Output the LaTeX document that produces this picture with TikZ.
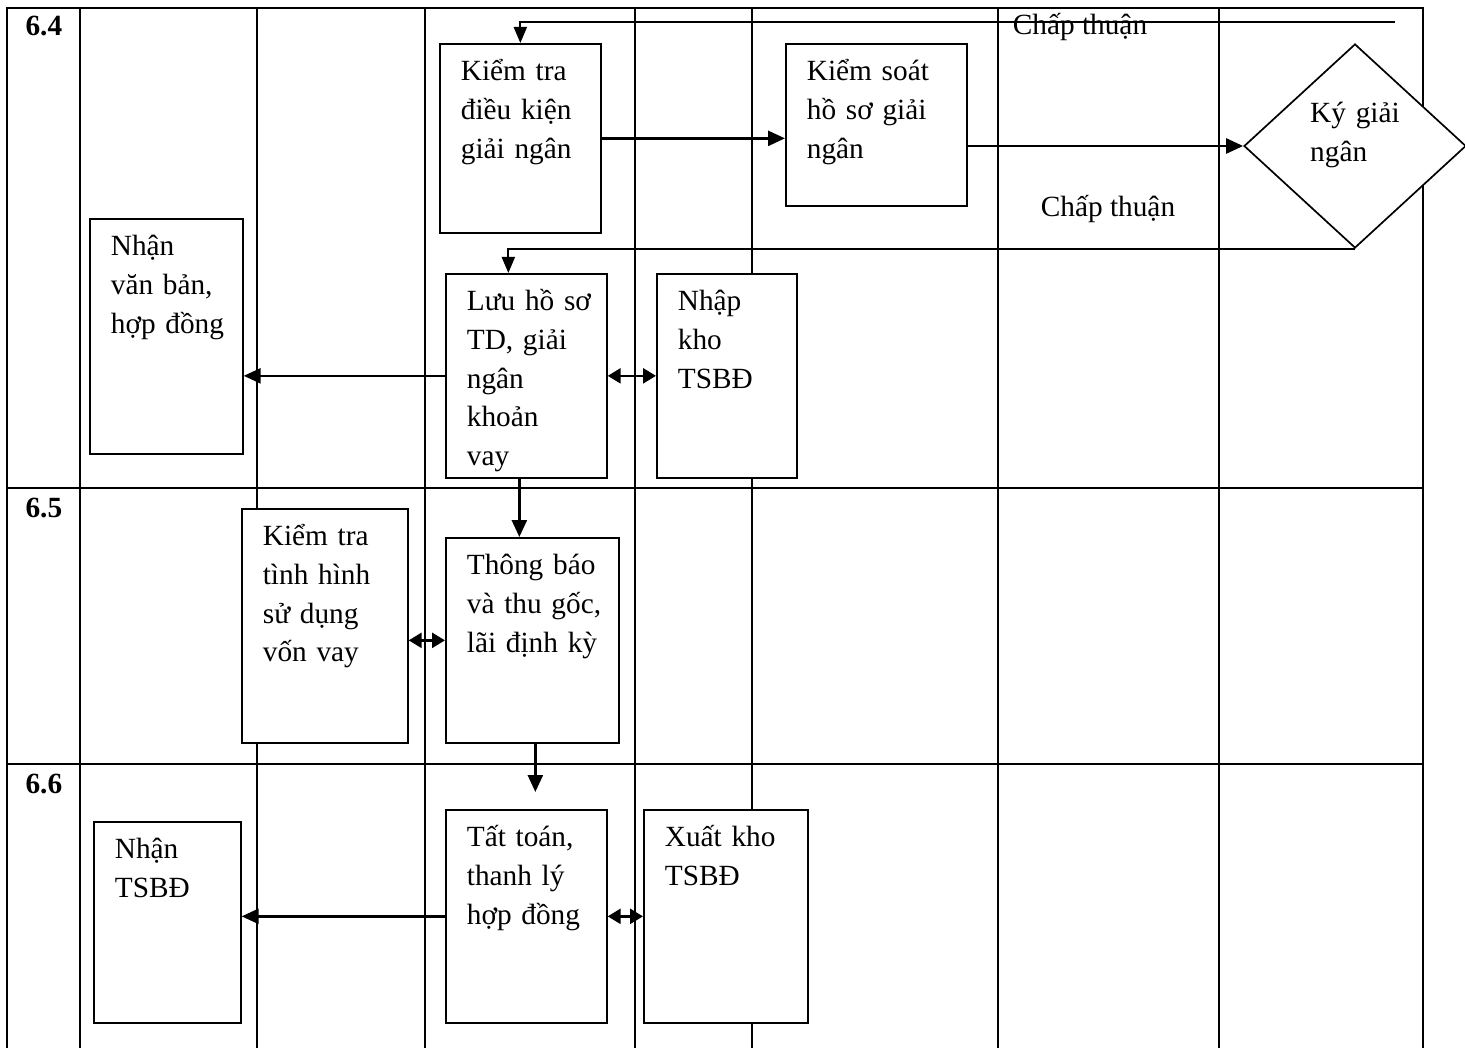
\documentclass[tikz,border=0pt]{standalone}
\usepackage{fontspec}
\setmainfont{Liberation Serif}
\usetikzlibrary{arrows.meta,shapes.geometric,positioning}

\begin{document}
\begin{tikzpicture}[x=1pt, y=-1pt,
  every node/.style={font=\fontsize{29.3}{38.7}\selectfont},
  grid/.style={line width=2.7pt},
  procbox/.style 2 args={draw, fill=white, line width=1.7pt, anchor=north west,
    align=left, inner xsep=21pt, inner ysep=4pt, text height=33pt,
    text width=#1, text depth=#2},
  rowlab/.style={anchor=base west, font=\fontsize{29.3}{38.7}\selectfont\bfseries},
  flow/.style={-{Triangle[length=17pt,width=15pt]}, line width=2.6pt},
  back/.style={-{Triangle[length=16pt,width=13pt]}, line width=2pt},
  twoway/.style={{Triangle[length=13pt,width=15pt]}-{Triangle[length=13pt,width=15pt]}, line width=2.6pt}]

\useasboundingbox (0,0) rectangle (1465,1048);

% swimlane grid
\draw[grid] (7,1050) |- (1423,8) -- (1423,1050);
\foreach \x in {80,257,425,635,752,998,1219}
  \draw[grid] (\x,8) -- (\x,1050);
\foreach \y in {488,764}
  \draw[grid] (7,\y) -- (1423,\y);

\node[rowlab] (r64) at (22,36) {6.4};
\node[rowlab] (r65) at (22,517) {6.5};
\node[rowlab] (r66) at (22,793) {6.6};

% step 6.4
\node[procbox={119pt}{148pt}] (ktdk) at (439,43) {Kiểm~tra\\ điều~kiện\\ giải~ngân};
\node[procbox={139pt}{121pt}] (kshs) at (785,43) {Kiểm~soát\\ hồ~sơ~giải\\ ngân};
\node[draw, fill=white, diamond, line width=1.7pt, minimum width=222pt,
  minimum height=204pt, inner sep=0pt] (ky) at (1355,146) {};
\node[anchor=base west, align=left, text width=100pt, inner sep=0pt] (kylab) at (1310,123) {Ký~giải\\ ngân};
\node[anchor=base] (ok1) at (1080,35) {Chấp thuận};
\node[anchor=base] (ok2) at (1108,217) {Chấp thuận};
\node[procbox={111pt}{194pt}] (nhan1) at (89,218) {Nhận\\ văn~bản,\\ hợp~đồng};
\node[procbox={119pt}{163pt}] (luu) at (445,273) {Lưu~hồ~sơ\\ TD,~giải\\ ngân\\ khoản\\ vay};
\node[procbox={98pt}{163pt}] (nhap) at (656,273) {Nhập\\ kho\\ TSBĐ};

% step 6.5
\node[procbox={124pt}{193pt}] (ktth) at (241,508) {Kiểm~tra\\ tình~hình\\ sử~dụng\\ vốn~vay};
\node[procbox={131pt}{164pt}] (tb) at (445,537) {Thông~báo\\ và~thu~gốc,\\ lãi~định~kỳ};

% step 6.6
\node[procbox={105pt}{160pt}] (nhan2) at (93,821) {Nhận\\ TSBĐ};
\node[procbox={119pt}{172pt}] (tt) at (445,809) {Tất~toán,\\ thanh~lý\\ hợp~đồng};
\node[procbox={122pt}{172pt}] (xk) at (643,809) {Xuất~kho\\ TSBĐ};

% connectors
\coordinate (topfb) at (1395,22);
\draw[back] (topfb) -| (ktdk.north);
\draw[flow] (ktdk.east) -- (ktdk.east -| kshs.west);
\draw[flow] (kshs.east |- ky.west) -- (ky.west);
\draw[back] (ky.south) -| ([xshift=-18pt]luu.north);
\draw[flow] (luu.west) -- (luu.west -| nhan1.east);
\draw[twoway] (luu.east) -- (luu.east -| nhap.west);
\draw[flow] ([xshift=-7pt]luu.south) -- ([xshift=-7pt]luu.south |- tb.north);
\draw[twoway] (tb.west -| ktth.east) -- (tb.west);
\draw[flow, shorten >=17pt] ([xshift=3pt]tb.south) -- ([xshift=3pt]tb.south |- tt.north);
\draw[flow] (tt.west) -- (tt.west -| nhan2.east);
\draw[twoway] (tt.east) -- (tt.east -| xk.west);

\end{tikzpicture}
\end{document}
